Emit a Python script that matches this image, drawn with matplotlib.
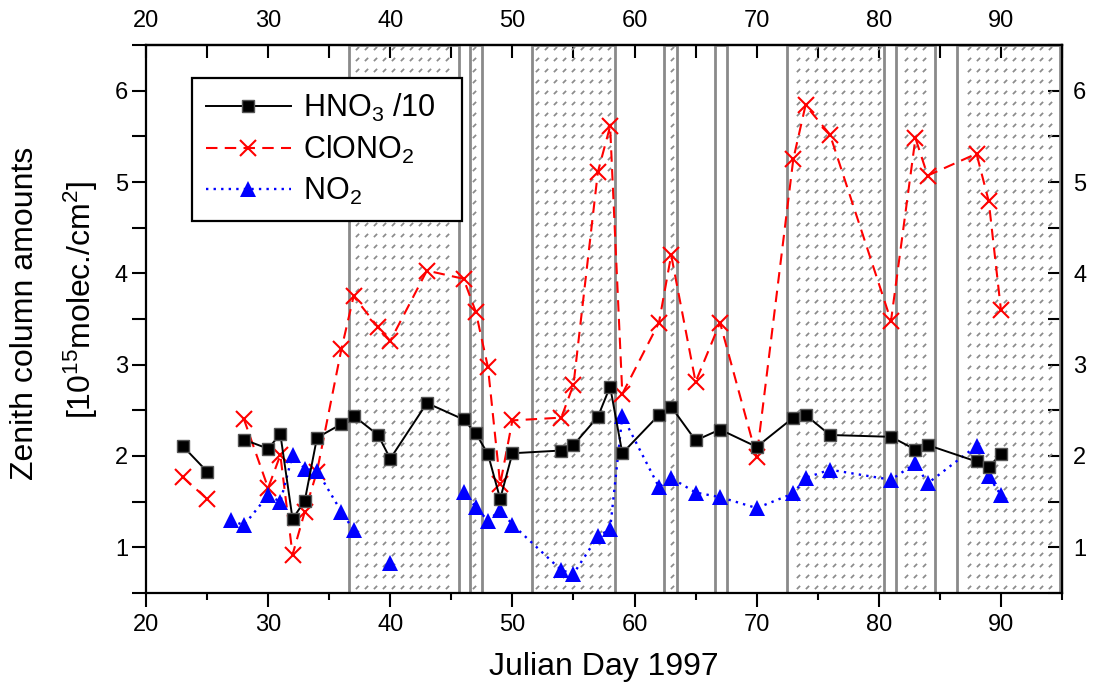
import numpy as np
import matplotlib
matplotlib.use("Agg")
import matplotlib.pyplot as plt
from matplotlib.path import Path
from matplotlib.ticker import MultipleLocator, FixedLocator

plt.rcParams['font.family'] = ['Liberation Sans', 'DejaVu Sans']
plt.rcParams['mathtext.fontset'] = 'custom'
plt.rcParams['mathtext.rm'] = 'Liberation Sans'
plt.rcParams['mathtext.it'] = 'Liberation Sans:italic'
plt.rcParams['mathtext.bf'] = 'Liberation Sans:bold'

nan = np.nan
days = [23, 25, 27, 28, 30, 31, 32, 33, 34, 36, 37, 39, 40, 43, 46, 47, 48, 49, 50,
        54, 55, 57, 58, 59, 62, 63, 65, 67, 70, 73, 74, 76, 81, 83, 84, 88, 89, 90]
hno3 = [2.11, 1.83, nan, 2.18, 2.08, 2.24, 1.31, 1.51, 2.20, 2.35, 2.44, 2.23, 1.97,
        2.58, 2.40, 2.25, 2.02, 1.53, 2.03, 2.06, 2.12, 2.43, 2.76, 2.03, 2.45, 2.54,
        2.17, 2.29, 2.10, 2.42, 2.45, 2.23, 2.21, 2.07, 2.12, 1.94, 1.88, 2.02]
clono2 = [1.77, 1.53, nan, 2.41, 1.65, 2.01, 0.92, 1.39, 1.83, 3.17, 3.75, 3.41, 3.26,
          4.03, 3.94, 3.58, 2.97, 1.69, 2.39, 2.42, 2.78, 5.11, 5.61, 2.68, 3.46, 4.20,
          2.81, 3.46, 1.99, 5.25, 5.84, 5.52, 3.48, 5.48, 5.07, 5.31, 4.79, 3.60]
no2 = [nan, nan, 1.30, 1.24, 1.57, 1.50, 2.01, 1.86, 1.84, 1.39, 1.19, nan, 0.83, nan,
       1.61, 1.44, 1.29, 1.41, 1.25, 0.75, 0.71, 1.12, 1.20, 2.44, 1.66, 1.76, 1.60,
       1.55, 1.43, 1.59, 1.76, 1.85, 1.74, 1.92, 1.70, 2.11, 1.78, 1.57]

# shaded periods (Julian day start, end)
span_start = [36.6, 46.55, 51.6, 62.45, 66.55, 72.5, 81.4, 86.4]
span_end = [45.6, 47.55, 58.4, 63.45, 67.55, 80.4, 84.6, 94.8]

labels = ['HNO$_3$ /10', 'ClONO$_2$', 'NO$_2$']
xticks = [20, 30, 40, 50, 60, 70, 80, 90]
yticks = [1, 2, 3, 4, 5, 6]

W, H = 1097, 693
fig = plt.figure(figsize=(W / 100, H / 100), dpi=100)
ax = fig.add_axes([146 / W, 1 - 593 / H, (1062 - 146) / W, (593 - 45) / H])
xmin, xmax, ymin, ymax = 20, 95, 0.5, 6.5
ax.set_xlim(xmin, xmax)
ax.set_ylim(ymin, ymax)

# shaded regions with dash pattern
gray = '#8a8a8a'
for s, e in zip(span_start, span_end):
    ax.axvspan(s, e, facecolor='none', edgecolor=gray, lw=2, zorder=1)

axw, axh = (1062 - 146), (593 - 45)
dxp, dyp = 9.0, 11.0
fx_list, fy_list = [], []
for fy in np.arange(6 / axh, 1, dyp / axh):
    for fx in np.arange(4 / axw, 1, dxp / axw):
        xd = xmin + fx * (xmax - xmin)
        for s, e in zip(span_start, span_end):
            if s + 0.3 < xd < e - 0.25:
                fx_list.append(fx)
                fy_list.append(fy)
                break
dash = Path([(-1.0, -1.0), (1.0, 1.0)], [Path.MOVETO, Path.LINETO])
ax.plot(fx_list, fy_list, linestyle='none', marker=dash, markersize=2.3,
        markeredgewidth=1.3, color='#8c8c8c', transform=ax.transAxes, zorder=1.5)

ax.plot(days, hno3, color='black', lw=1.4, marker='s', markersize=9,
        markerfacecolor='black', markeredgecolor='#555555', markeredgewidth=1.0,
        zorder=4, label=labels[0])
ax.plot(days, clono2, color='red', lw=1.5, linestyle=(0, (5.5, 3.5)), marker='x',
        markersize=11, markeredgewidth=1.5, zorder=3, label=labels[1])
ax.plot(days, no2, color='blue', lw=1.7, linestyle=(0, (1, 2.2)), marker='^',
        markersize=12, markeredgewidth=0, zorder=3, label=labels[2])

for sp in ax.spines.values():
    sp.set_linewidth(1.6)
    sp.set_color('black')
    sp.set_zorder(5)

ax.xaxis.set_major_locator(FixedLocator(xticks))
ax.xaxis.set_minor_locator(MultipleLocator(5))
ax.yaxis.set_major_locator(FixedLocator(yticks))
ax.yaxis.set_minor_locator(MultipleLocator(0.5))
ax.tick_params(axis='x', which='major', direction='out', length=10, width=1.5,
               labelsize=17, pad=5)
ax.tick_params(axis='x', which='minor', direction='out', length=5, width=1.5)
ax.tick_params(axis='y', which='both', direction='out', length=10, width=1.5,
               labelsize=17, pad=3)

secx = ax.secondary_xaxis('top')
secx.xaxis.set_major_locator(FixedLocator(xticks))
secx.xaxis.set_minor_locator(MultipleLocator(5))
secx.tick_params(axis='x', which='both', direction='in', length=9, width=1.5,
                 labelsize=17, pad=9)
secx.spines['top'].set_linewidth(1.6)

secy = ax.secondary_yaxis('right')
secy.yaxis.set_major_locator(FixedLocator(yticks))
secy.yaxis.set_minor_locator(MultipleLocator(0.5))
secy.tick_params(axis='y', which='both', direction='in', length=10, width=1.5,
                 labelsize=17, pad=8)
secy.spines['right'].set_linewidth(1.6)

ax.set_xlabel('Julian Day 1997', fontsize=23, labelpad=12)
fig.text(25 / W, 1 - 313 / H, 'Zenith column amounts', rotation=90, fontsize=23,
         ha='center', va='center')
fig.text(81 / W, 1 - 300 / H, '[10$^{15}$molec./cm$^{2}$]', rotation=90, fontsize=23,
         ha='center', va='center')

leg_w = (462 - 192) / axw
leg = ax.legend(loc='upper left', bbox_to_anchor=(0.05, 0.25, leg_w, 0.69),
                mode='expand', borderaxespad=0,
                fontsize=22, handlelength=2.8, handletextpad=0.4, labelspacing=0.33,
                borderpad=0.45, fancybox=False, framealpha=1, edgecolor='black',
                numpoints=1)
leg.get_frame().set_linewidth(1.6)
leg.set_zorder(6)

fig.savefig('out.png', dpi=100)
